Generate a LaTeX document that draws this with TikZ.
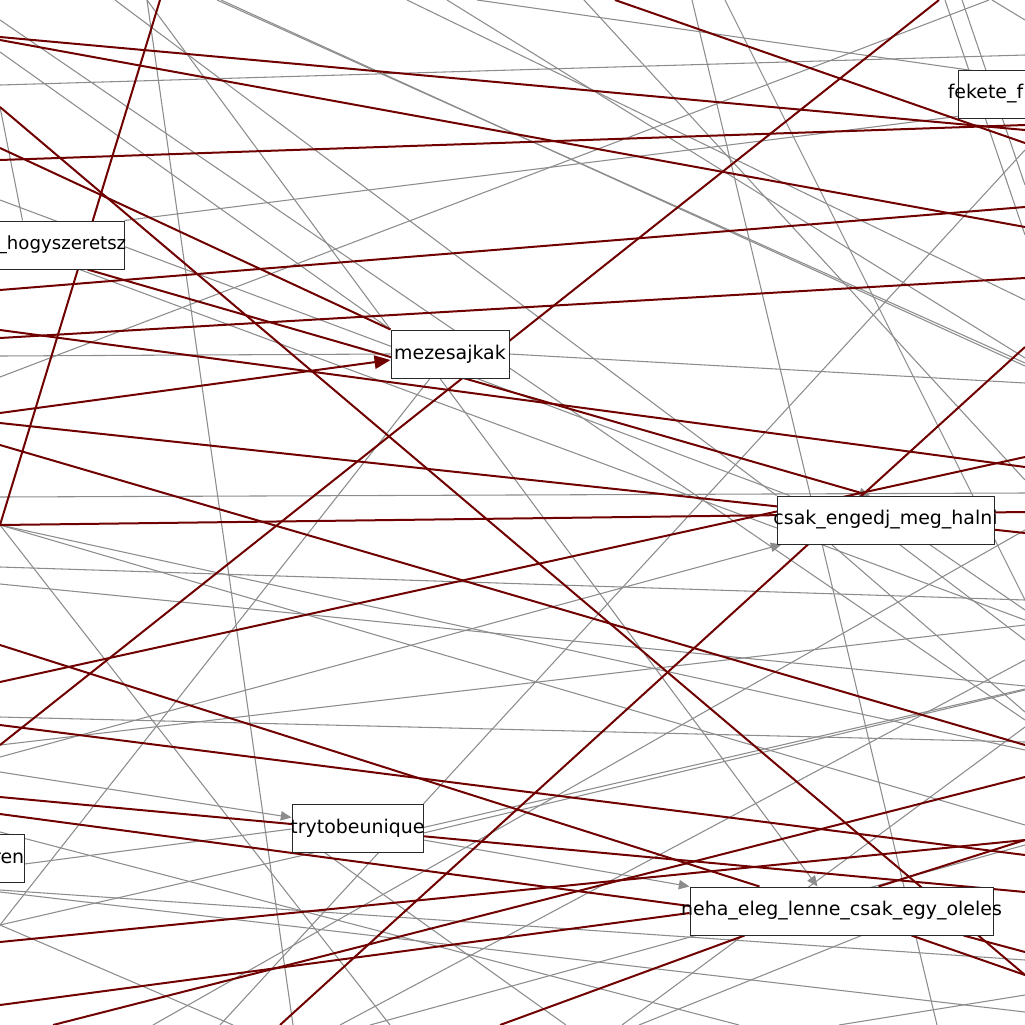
\documentclass[tikz,border=0pt]{standalone}
\usepackage{fontspec}
\setmainfont{DejaVu Sans}
\usetikzlibrary{arrows.meta,calc}
\definecolor{edgegray}{RGB}{140,140,140}
\definecolor{edgered}{RGB}{112,0,0}
\definecolor{boxline}{RGB}{40,40,40}
\begin{document}
\begin{tikzpicture}[x=0.75pt,y=-0.75pt,
  gedge/.style={draw=edgegray,line width=0.8pt},
  redge/.style={draw=edgered,line width=1.5pt},
  gtip/.style={-{Triangle[length=8pt,width=7pt,color=edgegray]}},
  rtip/.style={-{Triangle[length=12pt,width=10pt]}},
  box/.style={draw=boxline,line width=0.75pt,fill=white,minimum height=36pt,inner sep=0pt},
  txt/.style={font=\fontsize{14.2}{17}\selectfont,inner sep=0pt,text=black}]
\useasboundingbox (0,0) rectangle (1025,1025);
\clip (0,0) rectangle (1025,1025);

% nodes first (so their anchors exist); boxes are redrawn on top at the end
\path
  node[box,minimum width=88.5pt]  (mez)  at (450,354)   {}
  node[box,minimum width=162.75pt](csak) at (885.5,520) {}
  node[box,minimum width=227.25pt](neha) at (841.5,911) {}
  node[box,minimum width=98.25pt] (try)  at (357.5,828) {}
  node[box,minimum width=280.5pt] (hogy) at (-63,245)   {}
  node[box,minimum width=186pt]   (ren)  at (-100,858)  {}
  node[box,minimum width=213pt]   (fek)  at (1100,94)   {};

% free ends on the border: T top, B bottom, L left, R right
\foreach \n/\x/\y in {
  T115/115/0,T147/147/0,T160/160/0,T217/217/0,T221/221/0,T407/407/0,T447/447/0,
  T477/477/0,T584/584/0,T615/615/0,T692/692/0,T725/725/0,T939/939/0,T945/945/0,
  T962/962/0,T989/989/0,T992/992/0,
  B53/53/1025,B153/153/1025,B220/220/1025,B233/233/1025,B280/280/1025,B293/293/1025,
  B340/340/1025,B370/370/1025,B390/390/1025,B500/500/1025,B566/566/1025,B622/622/1025,
  B639/639/1025,B739/739/1025,B839/839/1025,B937/937/1025,
  L20/0/20,L37/0/37,L40/0/40,L52/0/52,L85/0/85,L107/0/107,L148/0/148,L160/0/160,
  L200/0/200,L240/0/240,L290/0/290,L330/0/330,L338/0/338,L356/0/356,L377/0/377,
  L413/0/413,L423/0/423,L445/0/445,L497/0/497,L525/0/525,L567/0/567,L584/0/584,
  L645/0/645,L682/0/682,L717/0/717,L725/0/725,L745/0/745,L757/0/757,L772/0/772,
  L797/0/797,L814/0/814,L832/0/832,L890/0/890,L892/0/892,L925/0/925,L942/0/942,
  L1005/0/1005,
  R20/1025/20,R55/1025/55,R78/1025/78,R108/1025/108,R125/1025/125,R130/1025/130,
  R143/1025/143,R150/1025/150,R185/1025/185,R207/1025/207,R227/1025/227,R235/1025/235,
  R278/1025/278,R300/1025/300,R347/1025/347,R358/1025/358,R363/1025/363,R366/1025/366,
  R383/1025/383,R457/1025/457,R467/1025/467,R480/1025/480,R493/1025/493,R512/1025/512,
  R530/1025/530,R533/1025/533,R600/1025/600,R610/1025/610,R620/1025/620,R625/1025/625,
  R640/1025/640,R660/1025/660,R686/1025/686,R689/1025/689,R690/1025/690,R712/1025/712,
  R720/1025/720,R727/1025/727,R742/1025/742,R745/1025/745,R750/1025/750,R777/1025/777,
  R825/1025/825,R840/1025/840,R845/1025/845,R855/1025/855,R892/1025/892,R952/1025/952,
  R960/1025/960,R975/1025/975,R995/1025/995,R1012/1025/1012}
  \coordinate (\n) at (\x,\y);

% grey edges
\draw[gedge] (T147) -- (B293);
\draw[gedge] (T115) -- (csak.north west);
\draw[gedge] (T147) -- (mez.north west);
\draw[gedge] (T217) -- (R363);
\draw[gedge] (T221) -- (R366);
\draw[gedge] (T407) -- (R300);
\draw[gedge] (T447) -- (R358);
\draw[gedge] (T477) -- (R78);
\draw[gedge] (T584) -- (R480);
\draw[gedge] (T692) -- (B937);
\draw[gedge] (T725) -- (R600);
\draw[gedge] (T945) -- (R235);
\draw[gedge] (T962) -- (R185);
\draw[gedge] (T989) -- (L377);
\draw[gedge] (T992) -- (R20);
\draw[gedge] (L85) -- (R55);
\draw[gedge] (mez.east) -- (R383);
\draw[gedge,gtip] ($(mez.south)+(-10,0)$) -- ($(neha.north west)+(128,0)$);
\draw[gedge] (B220) -- (R150);
\draw[gedge,gtip] ($(try.east)+(0,12)$) -- (neha.north west);
\draw[gedge,gtip] (L757) -- ($(csak.south west)+(5,0)$);
\draw[gedge] (L717) -- (R742);
\draw[gedge] (L567) -- (R600);
\draw[gedge] (B340) -- (R660);
\draw[gedge] (L525) -- (R750);
\draw[gedge] (L525) -- (R825);
\draw[gedge] (L525) -- (B390);
\draw[gedge] (L584) -- (R686);
\draw[gedge] (L745) -- (R625);
\draw[gedge,gtip] (L772) -- ($(try.north west)+(0,14)$);
\draw[gedge] ($(ren.east)+(0,6)$) -- ($(try.west)+(0,1)$);
\draw[gedge] (L890) -- (R960);
\draw[gedge] (L925) -- (R689);
\draw[gedge] (L925) -- (B233);
\draw[gedge] (L925) -- ($(mez.south)+(-20,0)$);
\draw[gedge] (L20) -- (R720);
\draw[gedge] (L52) -- (mez.north west);
\draw[gedge] (L107) -- ($(hogy.north east)+(-102,0)$);
\draw[gedge] (hogy.north east) -- (R108);
\draw[gedge] (L356) -- (mez.west);
\draw[gedge] (L497) -- (R493);
\draw[gedge] (L892) -- (R1012);
\draw[gedge] (B370) -- (R845);
\draw[gedge] (B622) -- (R727);
\draw[gedge] (B639) -- ($(neha.south west)+(172,0)$);
\draw[gedge] (L832) -- (B739);
\draw[gedge] (B839) -- (R995);
\draw[gedge] (B153) -- (R530);
\draw[gedge] ($(try.south west)+(33,0)$) -- (B566);
\draw[gedge] ($(try.east)+(0,5)$) -- (R690);
\draw[gedge] ($(csak.south west)+(55,0)$) -- (R712);
\draw[gedge] ($(csak.south west)+(123,0)$) -- (R640);
\draw[gedge] ($(csak.south west)+(153,0)$) -- (R610);
\draw[gedge] (L200) -- ($(csak.north west)+(13,0)$);
\draw[gedge] (L240) -- (R620);

% dark red edges
\draw[redge] (T160) -- (L525);
\draw[redge] (L37) -- (R130);
\draw[redge] (L40) -- (R227);
\draw[redge] (L160) -- (R125);
\draw[redge] (L107) -- (R975);
\draw[redge] (L148) -- (mez.north west);
\draw[redge] (L290) -- (R207);
\draw[redge] (L338) -- (R278);
\draw[redge] (L330) -- (R467);
\draw[redge,gtip] ($(hogy.south east)+(-37,0)$) -- ($(csak.north)+(-15.5,0)$);
\draw[redge,rtip] (L413) -- ($(mez.west)+(0,6)$);
\draw[redge] (L423) -- (R533);
\draw[redge] (L525) -- (R512);
\draw[redge] (L645) -- ($(neha.north west)+(70,0)$);
\draw[redge] (L682) -- (R457);
\draw[redge] (T939) -- (L745);
\draw[redge] (L445) -- (R745);
\draw[redge] (L725) -- (R855);
\draw[redge] (L797) -- (R892);
\draw[redge] (L814) -- ($(neha.west)+(0,-5)$);
\draw[redge] (L942) -- (R840);
\draw[redge] (L1005) -- ($(neha.west)+(0,2)$);
\draw[redge] (B53) -- (R777);
\draw[redge] (B280) -- (R347);
\draw[redge] (B500) -- ($(neha.south west)+(55,0)$);
\draw[redge] ($(neha.south west)+(222,0)$) -- (R975);
\draw[redge] ($(neha.south west)+(274,0)$) -- (R952);
\draw[redge] ($(neha.north west)+(189,0)$) -- (R840);
\draw[redge] (T615) -- (R143);

% boxes and their labels on top of the edges
\node[box,minimum width=88.5pt,label={[txt]center:mezesajkak}] at (mez) {};
\node[box,minimum width=162.75pt,label={[txt]center:csak\_engedj\_meg\_halni}] at (csak) {};
\node[box,minimum width=227.25pt,label={[txt]center:neha\_eleg\_lenne\_csak\_egy\_oleles}] at (neha) {};
\node[box,minimum width=98.25pt,label={[txt]center:trytobeunique}] at (try) {};
\node[box,minimum width=280.5pt,label={[txt,font=\fontsize{13.6}{16}\selectfont,anchor=east,xshift=1.5pt]east:\_hogyszeretsz}] at (hogy) {};
\node[box,minimum width=186pt,label={[txt,anchor=east]east:ren}] at (ren) {};
\node[box,minimum width=213pt,label={[txt,anchor=west,xshift=-7.5pt]west:fekete\_f}] at (fek) {};
\end{tikzpicture}
\end{document}
